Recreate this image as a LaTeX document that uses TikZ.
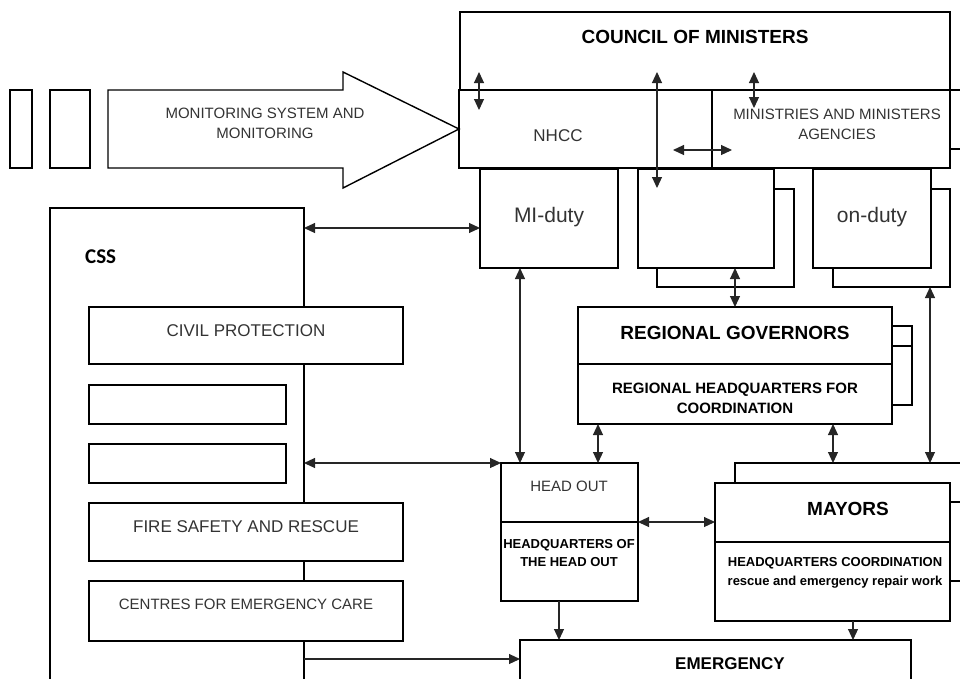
\documentclass[tikz,border=0pt]{standalone}
\usepackage{fontspec}
\setmainfont{Liberation Sans}
\newfontfamily\cssfont{Carlito}
\usetikzlibrary{arrows.meta, positioning}

\begin{document}
\begin{tikzpicture}[x=1pt, y=-1pt,
    box/.style={draw, line width=1.4pt, fill=white, inner sep=0pt, outer sep=0pt, anchor=north west},
    txt/.style={align=center, text=black!80, inner sep=0pt},
    btxt/.style={align=center, font=\bfseries, inner sep=0pt},
    dbl/.style={{Triangle[length=11pt,width=10pt]}-{Triangle[length=11pt,width=10pt]}, line width=1.1pt, black!85},
    one/.style={-{Triangle[length=11pt,width=10pt]}, line width=1.1pt, black!85}]
    \useasboundingbox (0,0) rectangle (960,678);
    \clip (0,0) rectangle (960,678);

    % monitoring arrow
    \node[box, minimum width=22, minimum height=78] (side1) at (10,90) {};
    \node[box, minimum width=40, minimum height=78] (side2) at (50,90) {};
    \node[box, minimum width=490, minimum height=78] (council) at (460,12) {};
    \node[box, minimum width=253, minimum height=78] (nhcc) at (459,90) {};
    \node[box, minimum width=238, minimum height=78] (mins) at (712,90) {};
    \draw[line width=1.4pt, fill=white] (108,90) -- (343,90) -- (343,72) -- (nhcc.west) -- (343,188) -- (343,168) -- (108,168) -- cycle;
    \node[txt, font=\fontsize{15}{20}\selectfont] (mon) at (265,123) {MONITORING SYSTEM AND\\MONITORING};

    % duty boxes
    \node[box, minimum width=137, minimum height=98] (box2s) at (657,189) {};
    \node[box, minimum width=136, minimum height=99] (box2) at (638,169) {};
    \node[box, minimum width=117, minimum height=98] (ondutys) at (833,189) {};
    \node[box, minimum width=118, minimum height=99] (onduty) at (813,169) {};
    \node[box, minimum width=138, minimum height=99] (miduty) at (480,169) {};

    % regional
    \node[box, minimum width=20, minimum height=79] (regs) at (892,326) {};
    \draw[line width=1.4pt] (regs.west |- 0,346) -- (regs.east |- 0,346);
    \node[box, minimum width=314, minimum height=57] (regtop) at (578,307) {};
    \node[box, minimum width=314, minimum height=60] (regbot) at (578,364) {};

    % CSS
    \node[box, minimum width=254, minimum height=500] (css) at (50,208) {};
    \node[box, minimum width=314, minimum height=57] (civil) at (89,307) {};
    \node[box, minimum width=197, minimum height=39] (blank1) at (89,385) {};
    \node[box, minimum width=197, minimum height=39] (blank2) at (89,444) {};
    \node[box, minimum width=314, minimum height=58] (fire) at (89,503) {};
    \node[box, minimum width=314, minimum height=60] (centres) at (89,581) {};

    % head out, mayors, emergency
    \node[box, minimum width=137, minimum height=59] (hotop) at (501,463) {};
    \node[box, minimum width=137, minimum height=79] (hobot) at (501,522) {};
    \node[box, draw=none, fill=none, minimum width=260, minimum height=20] (mays) at (735,463) {};
    \draw[line width=1.4pt] (mays.south west) -- (mays.north west) -- (mays.north east);
    \node[box, minimum width=235, minimum height=59] (maytop) at (715,483) {};
    \node[box, minimum width=235, minimum height=79] (maybot) at (715,542) {};
    \node[box, minimum width=391, minimum height=80] (emerg) at (520,640) {};
    \foreach \y in {90,149,502,581} {
        \draw[line width=1.4pt] (950,\y) -- (960,\y);
    }

    % texts
    \node[btxt, font=\fontsize{19}{22}\selectfont\bfseries] (councilT) at (695,37) {COUNCIL OF MINISTERS};
    \node[txt, font=\fontsize{17}{20}\selectfont] (nhccT) at (558,136) {NHCC};
    \node[txt, font=\fontsize{15}{20}\selectfont] (minsT) at (837,124) {MINISTRIES AND MINISTERS\\AGENCIES};
    \node[txt, font=\fontsize{21}{24}\selectfont] (midutyT) at (549,217) {MI-duty};
    \node[txt, font=\fontsize{21}{24}\selectfont] (ondutyT) at (872,217) {on-duty};
    \node[btxt, font=\fontsize{19}{22}\selectfont\bfseries] (regT) at (735,333) {REGIONAL GOVERNORS};
    \node[btxt, font=\fontsize{15}{20}\selectfont\bfseries] (reghqT) at (735,398) {REGIONAL HEADQUARTERS FOR\\COORDINATION};
    \node[anchor=west, inner sep=0pt, font=\fontsize{21}{24}\selectfont\cssfont\bfseries] (cssT) at (85,257) {CSS};
    \node[txt, font=\fontsize{17}{20}\selectfont] (civilT) at (246,331) {CIVIL PROTECTION};
    \node[txt, font=\fontsize{17}{20}\selectfont] (fireT) at (246,527) {FIRE SAFETY AND RESCUE};
    \node[txt, font=\fontsize{15}{20}\selectfont] (centresT) at (246,604) {CENTRES FOR EMERGENCY CARE};
    \node[txt, font=\fontsize{15}{20}\selectfont] (hoT) at (569,486) {HEAD OUT};
    \node[btxt, font=\fontsize{13}{18}\selectfont\bfseries] (hohqT) at (569,553) {HEADQUARTERS OF\\THE HEAD OUT};
    \node[btxt, font=\fontsize{19}{22}\selectfont\bfseries] (mayT) at (848,509) {MAYORS};
    \node[btxt, font=\fontsize{13}{19}\selectfont\bfseries] (mayhqT) at (835,573) {HEADQUARTERS COORDINATION\\rescue and emergency repair work};
    \node[btxt, font=\fontsize{17}{20}\selectfont\bfseries] (emergT) at (730,664) {EMERGENCY};

    % arrows
    \coordinate (t1) at (479,72);  \coordinate (b1) at (479,110);
    \coordinate (t2) at (657,72);  \coordinate (b2) at (657,188);
    \coordinate (t3) at (754,72);  \coordinate (b3) at (754,108);
    \coordinate (l4) at (673,150); \coordinate (r4) at (732,150);
    \draw[dbl] (t1) -- (b1);
    \draw[dbl] (t2) -- (b2);
    \draw[dbl] (t3) -- (b3);
    \draw[dbl] (l4) -- (r4);
    \draw[dbl] (css.east |- 0,228) -- (miduty.west |- 0,228);
    \draw[dbl] (520,0 |- miduty.south) -- (520,0 |- hotop.north);
    \draw[dbl] (735,0 |- box2.south) -- (735,0 |- regtop.north);
    \draw[dbl] (598,0 |- regbot.south) -- (598,0 |- hotop.north);
    \draw[dbl] (833,0 |- regbot.south) -- (833,0 |- mays.north);
    \draw[dbl] (930,0 |- ondutys.south) -- (930,0 |- mays.north);
    \draw[dbl] (hotop.south east) -- (maytop.west |- hotop.south east);
    \draw[dbl] (css.east |- hotop.north west) -- (hotop.north west);
    \draw[one] (559,0 |- hobot.south) -- (559,0 |- emerg.north);
    \draw[one] (853,0 |- maybot.south) -- (853,0 |- emerg.north);
    \draw[one] (css.east |- 0,659) -- (emerg.west |- 0,659);
\end{tikzpicture}
\end{document}
